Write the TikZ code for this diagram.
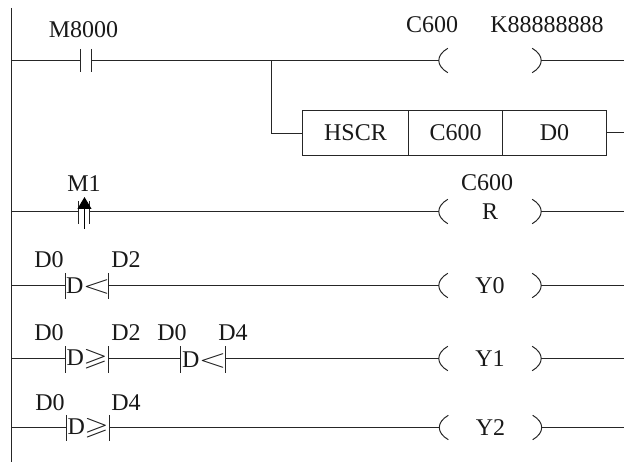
\documentclass[tikz,border=0pt]{standalone}
\usepackage{fontspec}
\usepackage{amssymb}
\usepackage{graphicx}
\setmainfont{Liberation Serif}
\usetikzlibrary{arrows.meta}
\tikzset{
  wire/.style={line width=1.05pt,color=black!85},
  lbl/.style={anchor=base,inner sep=0pt,font=\fontsize{24}{26}\selectfont,text=black!90},
  cellbox/.style={draw=black!85,line width=1.05pt,minimum height=45pt,inner sep=0pt,font=\fontsize{24}{26}\selectfont,text=black!90},
  nocontact/.style={inner sep=0pt,minimum width=11pt,minimum height=23pt},
  cmpcontact/.style={inner sep=0pt,minimum width=43pt,minimum height=26pt,font=\fontsize{24}{26}\selectfont,text=black!90},
  coilnode/.style={inner sep=0pt,minimum width=102pt,minimum height=24pt,font=\fontsize{24}{26}\selectfont,text=black!90},
}
\newcommand{\barsof}[1]{\draw[wire] (#1.north west) -- (#1.south west) (#1.north east) -- (#1.south east);}
\newcommand{\parensof}[1]{\draw[wire,line width=1pt] ([xshift=9pt]#1.north west) .. controls ([xshift=-3pt,yshift=-7pt]#1.north west) and ([xshift=-3pt,yshift=7pt]#1.south west) .. ([xshift=9pt]#1.south west)
  ([xshift=-9pt]#1.north east) .. controls ([xshift=3pt,yshift=-7pt]#1.north east) and ([xshift=3pt,yshift=7pt]#1.south east) .. ([xshift=-9pt]#1.south east);}
\newcommand{\dlt}{\makebox[43pt][l]{\hspace{.5pt}D\hspace{-.5pt}\scalebox{1.45}[1.05]{$<$}}}
\newcommand{\dge}{\makebox[43pt][l]{\hspace{1pt}D\hspace{-.5pt}\scalebox{1.3}[1.05]{$\geqslant$}}}
\begin{document}
\begin{tikzpicture}[x=1pt,y=-1pt]
\useasboundingbox (0,0) rectangle (624,462);
% power rail
\coordinate (railtop) at (11.5,8);
\coordinate (railbot) at (11.5,462);
\draw[wire] (railtop) -- (railbot);
\foreach \n/\y in {a/60.5,c/211.5,d/285.5,e/358.5,f/427.5}{
  \coordinate (rail\n) at (11.5,\y);
  \coordinate (end\n) at (624,\y);
}
% rung 1
\node[nocontact] (m8000) at (86,60.5) {};
\coordinate (branch) at (271.5,60.5);
\node[coilnode] (coilA) at (490,60.5) {};
\draw[wire] (raila) -- (m8000.west);
\draw[wire] (m8000.east) -- (branch) -- (coilA.west);
\draw[wire] (coilA.east) -- (enda);
\barsof{m8000}
\parensof{coilA}
\node[lbl] (tm8000) at (83.5,38) {M8000};
\node[lbl] (tc600a) at (432,33) {C600};
\node[lbl] (tk) at (547,33) {K88888888};
% function box
\node[cellbox,minimum width=106pt] (hscr) at (355.5,133) {HSCR};
\node[cellbox,minimum width=94pt] (bc600) at (455.5,133) {C600};
\node[cellbox,minimum width=104pt] (bd0) at (554.5,133) {D0};
\coordinate (stub) at (624,132.5);
\draw[wire] (branch) |- ([yshift=-.5pt]hscr.west);
\draw[wire] (bd0.east |- stub) -- (stub);
% rung 3
\node[nocontact] (m1) at (84,212.5) {};
\node[coilnode] (coilC) at (490,211.5) {R};
\draw[wire] (railc) -- (m1.west |- railc);
\draw[wire] (m1.east |- railc) -- (coilC.west);
\draw[wire] (coilC.east) -- (endc);
\barsof{m1}
\parensof{coilC}
\coordinate (m1tail) at (84.5,229);
\coordinate (m1tip) at (84.5,197);
\draw[wire,color=black,-{Triangle[length=12pt,width=14pt]}] (m1tail) -- (m1tip);
\node[lbl] (tm1) at (84,192) {M1};
\node[lbl] (tc600c) at (487,191) {C600};
% rung 4
\node[cmpcontact] (cmpd) at (87,286) {\dlt};
\node[coilnode] (coilD) at (490,285.5) {Y0};
\draw[wire] (raild) -- (cmpd.west |- raild);
\draw[wire] (cmpd.east |- raild) -- (coilD.west);
\draw[wire] (coilD.east) -- (endd);
\barsof{cmpd}
\parensof{coilD}
\node[lbl] (td0a) at (49,268) {D0};
\node[lbl] (td2a) at (126,268) {D2};
% rung 5
\node[cmpcontact] (cmpe) at (87,359.5) {\dge};
\node[cmpcontact,minimum width=45pt] (cmpg) at (203,359.5) {\dlt};
\node[coilnode] (coilE) at (490,358.5) {Y1};
\draw[wire] (raile) -- (cmpe.west |- raile);
\draw[wire] (cmpe.east |- raile) -- (cmpg.west |- raile);
\draw[wire] (cmpg.east |- raile) -- (coilE.west);
\draw[wire] (coilE.east) -- (ende);
\barsof{cmpe}
\barsof{cmpg}
\parensof{coilE}
\node[lbl] (td0b) at (49,341) {D0};
\node[lbl] (td2b) at (126,341) {D2};
\node[lbl] (td0c) at (172,341) {D0};
\node[lbl] (td4c) at (233,341) {D4};
% rung 6
\node[cmpcontact] (cmpf) at (88,428) {\dge};
\node[coilnode] (coilF) at (490.5,427.5) {Y2};
\draw[wire] (railf) -- (cmpf.west |- railf);
\draw[wire] (cmpf.east |- railf) -- (coilF.west);
\draw[wire] (coilF.east) -- (endf);
\barsof{cmpf}
\parensof{coilF}
\node[lbl] (td0d) at (50,410) {D0};
\node[lbl] (td4d) at (126,410) {D4};
\end{tikzpicture}
\end{document}
